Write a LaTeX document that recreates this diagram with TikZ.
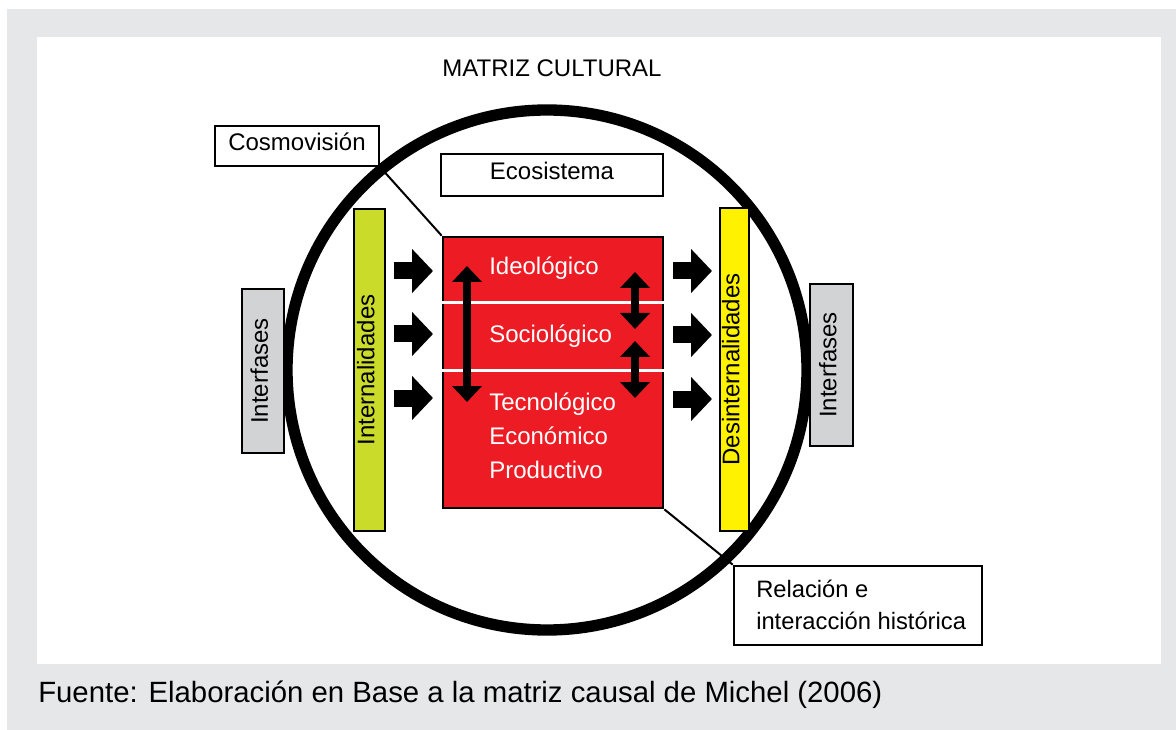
\documentclass[tikz,border=0pt]{standalone}
\usepackage{fontspec}
\setmainfont{Liberation Sans}
\usetikzlibrary{arrows.meta}
\definecolor{bggray}{HTML}{E6E7E8}
\definecolor{boxgray}{HTML}{D1D3D4}
\definecolor{limefill}{HTML}{CADB2A}
\definecolor{yelfill}{HTML}{FFF200}
\definecolor{redfill}{HTML}{ED1C24}
\newcommand\labfont{\fontsize{18}{24}\selectfont}
\newcommand\relfont{\fontsize{17.8}{24}\selectfont}
\newcommand\capfont{\fontsize{22}{26}\selectfont}
\begin{document}
\begin{tikzpicture}[x=0.75pt,y=-0.75pt,
  box/.style={draw, line width=2pt, inner sep=0pt, font=\labfont, text height=0.72em, text depth=0pt},
  blk/.style={line width=12.75pt, -{Triangle[length=15.75pt,width=32.25pt]}},
  dbl/.style={line width=6pt, {Triangle[length=12pt,width=21.75pt]}-{Triangle[length=12pt,width=21.75pt]}},
  conn/.style={line width=1.5pt},
  redtxt/.style={text=white, font=\labfont, anchor=base west, inner sep=0pt}]
\useasboundingbox (0,0) rectangle (1176,730);
\fill[white] (0,0) rectangle (1176,730);
\fill[bggray] (7,9) rectangle (1176,730);
\fill[white] (37,37) rectangle (1161,664);

\node[font=\labfont, inner sep=0pt] (title) at (552,68) {MATRIZ CULTURAL};

\node[circle, draw, line width=8.5pt, minimum size=390pt, inner sep=0pt] (circ) at (547,370) {};

% red central box
\node[draw, fill=redfill, line width=2pt, minimum width=165pt, minimum height=203.25pt, inner sep=0pt] (red) at (553,372.5) {};
\draw[white, line width=2.25pt] (red.west |- 0,303) -- (red.east |- 0,303);
\draw[white, line width=2.25pt] (red.west |- 0,370) -- (red.east |- 0,370);

% boxes
\node[box, fill=white, minimum width=123pt, minimum height=30pt] (cosmo) at (297,146) {Cosmovisión};
\node[box, fill=white, minimum width=166.5pt, minimum height=31.5pt] (eco) at (552,175) {Ecosistema};
\node[box, fill=boxgray, rotate=90, minimum width=123pt, minimum height=31.5pt] (intL) at (263,371) {Interfases};
\node[box, fill=boxgray, rotate=90, minimum width=121.5pt, minimum height=32.25pt] (intR) at (831.5,365) {Interfases};
\node[box, fill=limefill, rotate=90, minimum width=241.5pt, minimum height=23.25pt] (inn) at (369.5,370) {Internalidades};
\node[box, fill=yelfill, rotate=90, minimum width=242.25pt, minimum height=21.75pt] (des) at (734.5,369.5) {Desinternalidades};
\node[draw, fill=white, line width=2pt, minimum width=186pt, minimum height=59.25pt, inner sep=0pt] (rel) at (858,605.5) {};
\node[anchor=base west, inner sep=0pt, font=\relfont] (rel1) at (756,597) {Relación e};
\node[anchor=base west, inner sep=0pt, font=\relfont] (rel2) at (756,629) {interacción histórica};

% connectors
\draw[conn] (cosmo.south east) -- (red.north west);
\draw[conn] (red.south east) -- (rel.north west);

% red texts
\node[redtxt] (ideo) at (489,275) {Ideológico};
\node[redtxt] (socio) at (489,343) {Sociológico};
\node[redtxt] (tecno) at (489,410) {Tecnológico};
\node[redtxt] (econ) at (489,444) {Económico};
\node[redtxt] (prod) at (489,478) {Productivo};

% block arrows
\foreach \y [count=\i] in {271,334,398} {
  \coordinate (la\i) at (394,\y);
  \coordinate (lb\i) at (433,\y);
  \draw[blk] (la\i) -- (lb\i);
}
\foreach \y [count=\i] in {271,335,399} {
  \coordinate (ra\i) at (673,\y);
  \coordinate (rb\i) at (712,\y);
  \draw[blk] (ra\i) -- (rb\i);
}

% double arrows
\coordinate (d1a) at (467,266); \coordinate (d1b) at (467,402);
\coordinate (d2a) at (635,272); \coordinate (d2b) at (635,329);
\coordinate (d3a) at (635,341); \coordinate (d3b) at (635,398);
\draw[dbl] (d1a) -- (d1b);
\draw[dbl] (d2a) -- (d2b);
\draw[dbl] (d3a) -- (d3b);

\node[anchor=base west, inner sep=0pt, font=\capfont] (src) at (38,702) {Fuente: Elaboración en Base a la matriz causal de Michel (2006)};
\end{tikzpicture}
\end{document}
